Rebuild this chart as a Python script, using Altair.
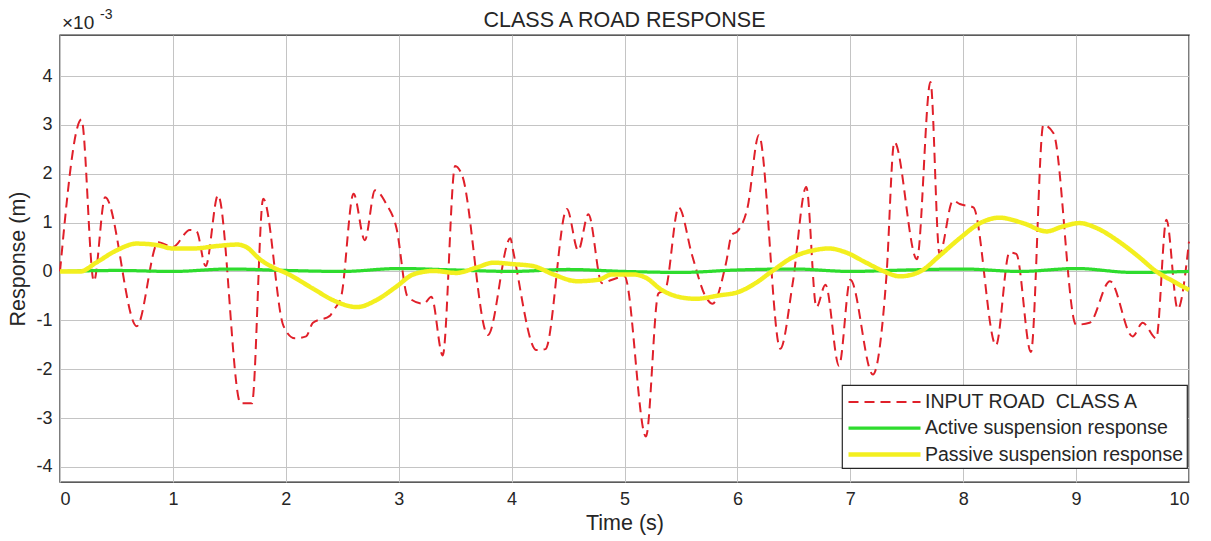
import altair as alt
import pandas as pd

# ---------------- data (values in units of 1e-3 m) ----------------
road_t = [0, 0.19, 0.30, 0.40, 0.68, 0.87, 1.0, 1.15, 1.21, 1.29, 1.40, 1.60, 1.70, 1.80,
          1.98, 2.08, 2.18, 2.24, 2.39, 2.42, 2.49, 2.60, 2.70, 2.79, 2.89, 2.98, 3.08,
          3.22, 3.29, 3.39, 3.50, 3.56, 3.79, 3.99, 4.01, 4.22, 4.30, 4.49, 4.59, 4.68,
          4.80, 4.89, 5.0, 5.19, 5.30, 5.36, 5.48, 5.60, 5.72, 5.78, 5.90, 5.95, 6.0,
          6.09, 6.19, 6.38, 6.49, 6.61, 6.70, 6.78, 6.90, 7.0, 7.20, 7.32, 7.39, 7.59,
          7.71, 7.79, 7.91, 7.97, 8.09, 8.29, 8.41, 8.47, 8.60, 8.71, 8.80, 9.0, 9.12,
          9.30, 9.50, 9.59, 9.71, 9.80, 9.90, 10.0]
road_v = [0, 3.11, -0.2, 1.52, -1.12, 0.6, 0.5, 0.85, 0.82, 0.11, 1.56, -2.7, -2.7, 1.49,
          -1.12, -1.37, -1.33, -1.05, -0.91, -0.8, -0.52, 1.59, 0.64, 1.66, 1.38, 0.89, -0.52,
          -0.66, -0.52, -1.72, 2.16, 1.98, -1.3, 0.68, 0.46, -1.61, -1.59, 1.28, 0.43, 1.17,
          -0.24, -0.17, -0.1, -3.38, -0.45, -0.38, 1.31, 0.32, -0.52, -0.66, 0.18, 0.75, 0.82,
          1.31, 2.79, -1.58, -0.24, 1.73, -0.73, -0.27, -1.93, -0.17, -2.11, -0.1, 2.65, 0.25,
          3.88, 0.36, 1.45, 1.38, 1.31, -1.51, 0.39, 0.36, -1.65, 3.0, 2.83, -1.09, -1.05,
          -0.2, -1.33, -1.05, -1.37, 1.06, -0.77, 0.61]

active_t = [0, 0.5, 1, 1.5, 2, 2.5, 3, 3.5, 4, 4.5, 5, 5.5, 6, 6.5, 7, 7.5, 8, 8.5, 9, 9.5, 10]
active_v = [0, 0.02, 0.0, 0.05, 0.02, 0.0, 0.06, 0.03, 0.0, 0.04, 0.0, -0.02, 0.03, 0.05,
            0.0, 0.03, 0.05, 0.0, 0.06, -0.02, 0.0]

passive_t = [0, 0.18, 0.32, 0.5, 0.68, 0.86, 1.0, 1.18, 1.39, 1.57, 1.65, 1.77, 1.89, 2.0,
             2.24, 2.42, 2.63, 2.8, 2.98, 3.13, 3.31, 3.51, 3.69, 3.84, 4.01, 4.19, 4.37,
             4.58, 4.77, 4.89, 5.07, 5.19, 5.33, 5.48, 5.63, 5.84, 6.01, 6.16, 6.31, 6.49,
             6.67, 6.81, 6.96, 7.14, 7.29, 7.44, 7.62, 7.79, 7.97, 8.15, 8.32, 8.53, 8.74,
             8.88, 9.03, 9.18, 9.38, 9.56, 9.71, 9.86, 10.0]
passive_v = [0, 0.0, 0.18, 0.43, 0.57, 0.54, 0.47, 0.47, 0.52, 0.55, 0.5, 0.25, 0.08, -0.03,
             -0.35, -0.59, -0.73, -0.59, -0.31, -0.06, 0.01, -0.03, 0.08, 0.18, 0.15, 0.11, -0.06,
             -0.2, -0.17, -0.06, -0.06, -0.13, -0.38, -0.52, -0.56, -0.49, -0.42, -0.24, 0.01, 0.29,
             0.43, 0.47, 0.39, 0.18, 0.01, -0.1, 0.0, 0.32, 0.68, 0.99, 1.1, 0.99, 0.82,
             0.92, 0.99, 0.89, 0.61, 0.29, 0.0, -0.2, -0.38]

series_names = ["INPUT ROAD\u00a0 CLASS A", "Active suspension response", "Passive suspension response"]
series_colors = ["#e0202a", "#2edc2e", "#f3ef1f"]
x_ticks = list(range(0, 11))
y_ticks = list(range(-4, 5))
title_text = "CLASS A ROAD RESPONSE"

rows = []
for name, ts, vs in [(series_names[0], road_t, road_v),
                     (series_names[1], active_t, active_v),
                     (series_names[2], passive_t, passive_v)]:
    for t, v in zip(ts, vs):
        rows.append({"t": t, "v": v, "series": name})
df = pd.DataFrame(rows)

FONT = "Liberation Sans"
TXT = "#262626"
W, H = 1129, 447

base = alt.Chart(df).mark_line(interpolate="monotone").encode(
    x=alt.X("t:Q", scale=alt.Scale(domain=[0, 10], nice=False, zero=False),
            axis=alt.Axis(values=x_ticks, labelExpr="'' + datum.value", title="Time (s)")),
    y=alt.Y("v:Q", scale=alt.Scale(domain=[-4.31, 4.84], nice=False, zero=False),
            axis=alt.Axis(values=y_ticks, labelExpr="'' + datum.value", title="Response (m)")),
    color=alt.Color("series:N", scale=alt.Scale(domain=series_names, range=series_colors),
                    legend=alt.Legend(title=None)),
    strokeDash=alt.StrokeDash("series:N", scale=alt.Scale(domain=series_names,
                              range=[[10, 6], [1, 0], [1, 0]]), legend=alt.Legend(title=None)),
    strokeWidth=alt.StrokeWidth("series:N", scale=alt.Scale(domain=series_names, range=[2, 4.5, 4.5]),
                                legend=alt.Legend(title=None)),
)

layers = [base.transform_filter(alt.datum.series == s) for s in series_names]

one = pd.DataFrame({"a": [0]})
exp_base = alt.Chart(one).mark_text(font=FONT, color=TXT, align="left", baseline="alphabetic",
                                    fontSize=19).encode(x=alt.value(2), y=alt.value(-6), text=alt.value("×10"))
exp_sup = alt.Chart(one).mark_text(font=FONT, color=TXT, align="left", baseline="alphabetic",
                                   fontSize=14).encode(x=alt.value(40), y=alt.value(-16), text=alt.value("-3"))
title_mark = alt.Chart(one).mark_text(font=FONT, color=TXT, align="center", baseline="alphabetic",
                                      fontSize=21.5).encode(x=alt.value(W / 2), y=alt.value(-8),
                                                            text=alt.value(title_text))

chart = alt.layer(*layers, exp_base, exp_sup, title_mark).properties(
    width=W, height=H,
    autosize=alt.AutoSizeParams(type="none"),
    padding={"left": 60, "top": 35, "right": 22, "bottom": 59},
    background="white",
).configure_view(
    stroke=TXT, strokeWidth=1.4
).configure_axis(
    labelFont=FONT, titleFont=FONT, labelFontSize=18, titleFontSize=21.5, labelColor=TXT,
    titleColor=TXT, titleFontWeight="normal", grid=True, gridColor="#c4c4c4", gridWidth=1,
    domain=False, ticks=False, labelPadding=8
).configure_axisX(
    titlePadding=4
).configure_axisY(
    titlePadding=6
).configure_legend(
    orient="none", legendX=782, legendY=350, fillColor="white", strokeColor=TXT,
    padding=4, labelFont=FONT, labelFontSize=19.5, labelColor=TXT, labelLimit=400,
    symbolType="M-3,0H3", symbolSize=576, symbolOffset=24, labelOffset=26, rowPadding=2,
    strokeWidth=1.2
)

chart.save("out.html", embed_options={"renderer": "svg", "actions": False})
